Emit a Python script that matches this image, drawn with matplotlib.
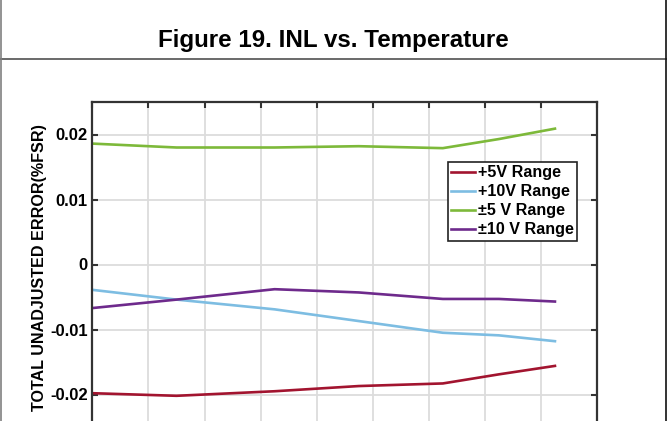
import numpy as np
import matplotlib
matplotlib.use('Agg')
import matplotlib.pyplot as plt
from matplotlib.lines import Line2D

plt.rcParams['font.family'] = ['Liberation Sans', 'DejaVu Sans']
plt.rcParams['font.weight'] = 'bold'
plt.rcParams['axes.unicode_minus'] = False

# temperature points (degC) and error (%FSR)
temp = [-40, -10, 25, 55, 85, 105, 125]
pos5 = [-0.0198, -0.0202, -0.0195, -0.0187, -0.0183, -0.0169, -0.0156]
pos10 = [-0.0039, -0.0054, -0.0069, -0.0087, -0.0105, -0.0109, -0.0118]
bip5 = [0.0186, 0.0180, 0.0180, 0.0182, 0.0179, 0.0193, 0.0209]
bip10 = [-0.0067, -0.0054, -0.0038, -0.0043, -0.0053, -0.0053, -0.0057]

labels = ['+5V Range', '+10V Range', '\u00b15 V Range', '\u00b110 V Range']
colors = ['#A2142F', '#7DBDE2', '#7DB93A', '#6E2A8C']

xticks = np.arange(-40, 141, 20)
yticks = [-0.02, -0.01, 0, 0.01, 0.02]
yticklabels = ['-0.02', '-0.01', '0', '0.01', '0.02']

W, H = 667, 421
fig = plt.figure(figsize=(W / 100, H / 100), dpi=100)

# axes box in pixels: left 92, right 597, top 102, bottom 427 (cropped)
ax = fig.add_axes([92.4 / W, (H - 427) / H, 504.6 / W, 325 / H])

for y, lab, c in zip([pos5, pos10, bip5, bip10], labels, colors):
    ax.plot(temp, y, color=c, lw=1.9, label=lab)

ax.set_xlim(-40, 140)
ax.set_ylim(-0.025, 0.025)
ax.set_xticks(xticks)
ax.set_yticks(yticks)
ax.set_yticklabels(yticklabels)
ax.grid(True, color='#dcdcdc', lw=1.3)
ax.set_axisbelow(True)
for s in ax.spines.values():
    s.set_color('#333333')
    s.set_linewidth(1.6)
ax.tick_params(direction='in', length=4.5, width=1.5, color='#333333',
               top=True, right=True, labelsize=12, pad=3.5)
# x tick labels fall below the cropped bottom edge
ax.tick_params(axis='x', labelbottom=False)

ax.set_ylabel('TOTAL UNADJUSTED ERROR(%FSR)', fontsize=11.6, fontweight='bold')
ax.yaxis.set_label_coords(-0.09, 0.49)

leg = ax.legend(loc='upper left', bbox_to_anchor=(448 / W, (H - 162) / H),
                bbox_transform=fig.transFigure, fontsize=11.6, frameon=True,
                fancybox=False, edgecolor='#222222', framealpha=1,
                borderpad=0.2, labelspacing=0.25, handlelength=1.5,
                handletextpad=0.15, borderaxespad=0)
leg.get_frame().set_linewidth(1.2)

fig.text(0.5, 1 - 40 / H, 'Figure 19. INL vs. Temperature', ha='center',
         va='center', fontsize=17.4, fontweight='bold')

# table cell borders
fig.add_artist(Line2D([0, 1], [1 - 59 / H] * 2, transform=fig.transFigure,
                      color='#505050', lw=1.2))
fig.add_artist(Line2D([0.8 / W] * 2, [0, 1], transform=fig.transFigure,
                      color='#808080', lw=1.2))
fig.add_artist(Line2D([665.5 / W] * 2, [0, 1], transform=fig.transFigure,
                      color='#111111', lw=1.2))

fig.savefig('out.png', dpi=100)
